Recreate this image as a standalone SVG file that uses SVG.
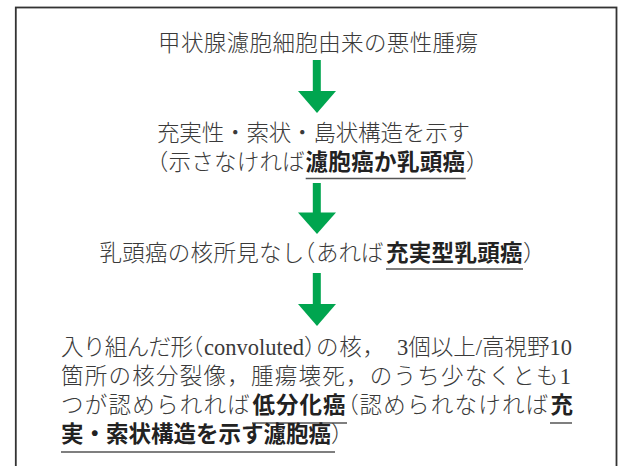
<svg xmlns="http://www.w3.org/2000/svg" width="621" height="466" viewBox="0 0 621 466">
<style>
.r{font-family:"Liberation Serif","Noto Sans CJK JP",serif;font-size:22.5px;font-weight:300;fill:#3a3a3a}
.b{font-family:"Noto Sans CJK JP",sans-serif;font-size:22.5px;font-weight:bold;fill:#222}
.p{font-family:"Noto Sans CJK JP",sans-serif;font-feature-settings:"halt" 1}
.ul{stroke:#555;stroke-width:1.5;fill:none}
.arr{fill:#00a54f}
</style>
<rect x="15.8" y="7.5" width="600.7" height="480" fill="#fff" stroke="#333" stroke-width="1.8"/>
<g id="connectors">
<g class="arr"><rect x="312.8" y="60" width="8" height="32"/><polygon points="298,91 336,91 317,113"/></g>
<g class="arr"><rect x="312.8" y="183" width="8" height="31"/><polygon points="298,212.5 336,212.5 317,234"/></g>
<g class="arr"><rect x="312.8" y="273" width="8" height="32"/><polygon points="298,304 336,304 317,326"/></g>
</g>
<g id="node1">
<text class="r" x="158" y="51" textLength="320" lengthAdjust="spacing">甲状腺濾胞細胞由来の悪性腫瘍</text>
</g>
<g id="node2">
<text class="r" x="157" y="141" textLength="313" lengthAdjust="spacing">充実性・索状・島状構造を示す</text>
<text class="r" y="170"><tspan class="p" x="157">（</tspan><tspan x="168.5" letter-spacing="0.25">示さなければ</tspan><tspan class="b" x="305.5" letter-spacing="0.35">濾胞癌か乳頭癌</tspan><tspan class="p" x="466">）</tspan></text>
<line class="ul" x1="305.7" y1="178.5" x2="465.7" y2="178.5"/>
</g>
<g id="node3">
<text class="r" y="261"><tspan x="99.5" letter-spacing="0.28">乳頭癌の核所見なし</tspan><tspan class="p" x="304">（</tspan><tspan x="316">あれば</tspan><tspan class="b" x="386" letter-spacing="0.3">充実型乳頭癌</tspan><tspan class="p" x="523">）</tspan></text>
<line class="ul" x1="386" y1="269" x2="523" y2="269"/>
</g>
<g id="node4">
<text class="r" y="355"><tspan x="61" letter-spacing="-0.6">入り組んだ形</tspan><tspan class="p" x="192">（</tspan><tspan x="204">convoluted</tspan><tspan class="p" x="304">）</tspan><tspan x="316" letter-spacing="0.8">の核，</tspan><tspan x="397">3個以上/高視野10</tspan></text>
<text class="r" x="61" y="384" textLength="510" lengthAdjust="spacing">箇所の核分裂像，腫瘍壊死，のうち少なくとも1</text>
<text class="r" y="413"><tspan x="61" letter-spacing="1.25">つが認められれば</tspan><tspan class="b" x="252.5" letter-spacing="1">低分化癌</tspan><tspan class="p" x="347.5">（</tspan><tspan x="359.5" letter-spacing="1.25">認められなければ</tspan><tspan class="b" x="550.5">充</tspan></text>
<line class="ul" x1="252" y1="423" x2="347" y2="423"/>
<line class="ul" x1="550" y1="423" x2="572" y2="423"/>
<text y="442"><tspan class="b" x="61">実・索状構造を示す濾胞癌</tspan><tspan class="r p" x="331">）</tspan></text>
<line class="ul" x1="61" y1="452" x2="335" y2="452"/>
</g>
</svg>
